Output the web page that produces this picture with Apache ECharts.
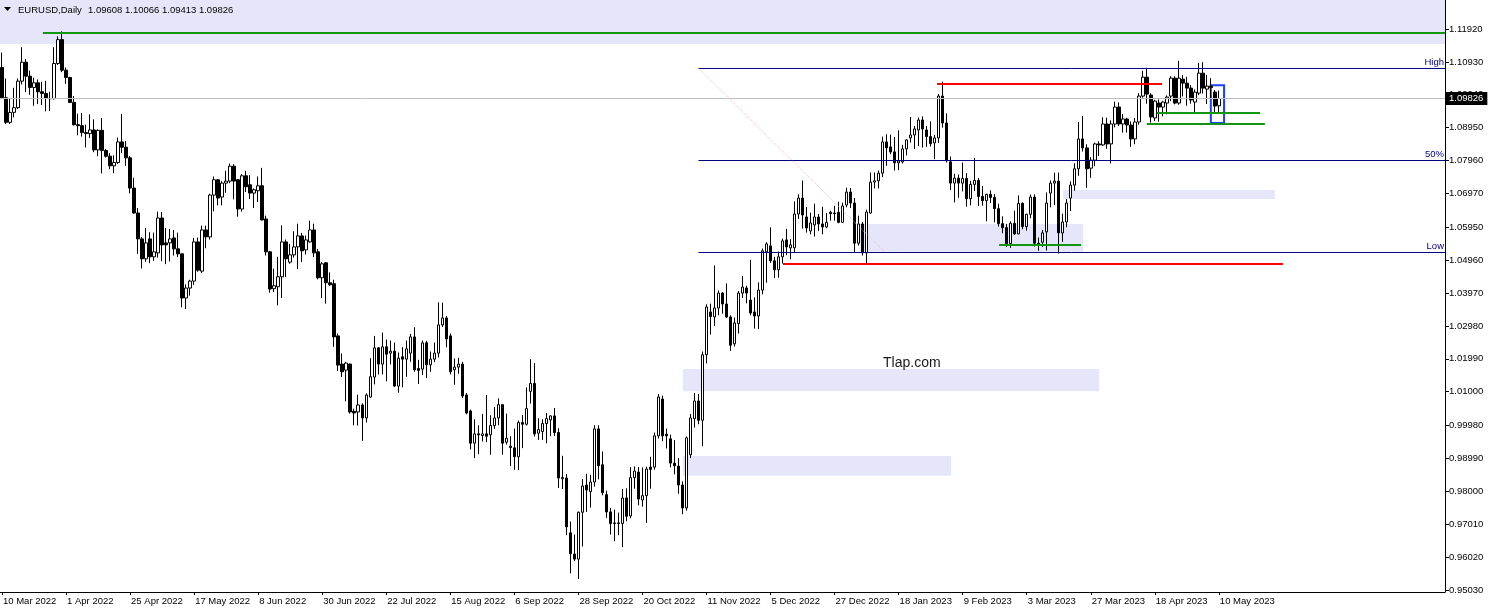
<!DOCTYPE html>
<html><head><meta charset="utf-8">
<script src="https://cdn.jsdelivr.net/npm/echarts@6/dist/echarts.min.js"></script>
<style>html,body{margin:0;padding:0;background:#fff}#c{width:1489px;height:613px}</style>
</head><body><div id="c"></div><script>
// ---------- data ----------
const symbolName = 'EURUSD,Daily';
const lastQuote = ['1.09608', '1.10066', '1.09413', '1.09826'];
const barCount = 305;          // 10 Mar 2022 .. 10 May 2023 (daily, Mon-Fri)
const slotCount = 361;         // visible slots incl. empty space on the right
const tickEvery = 16;
const tickLabels = ['10 Mar 2022','1 Apr 2022','25 Apr 2022','17 May 2022','8 Jun 2022','30 Jun 2022','22 Jul 2022',
  '15 Aug 2022','6 Sep 2022','28 Sep 2022','20 Oct 2022','11 Nov 2022','5 Dec 2022','27 Dec 2022','18 Jan 2023',
  '9 Feb 2023','3 Mar 2023','27 Mar 2023','18 Apr 2023','10 May 2023'];
const yTicks = [0.95030,0.96020,0.97010,0.98000,0.98990,0.99980,1.01000,1.01990,1.02980,1.03970,1.04960,
  1.05950,1.06970,1.07960,1.08950,1.09940,1.10930,1.11920];
const yMin = 0.94969, yMax = 1.12793;
// [open, high, low, close]
const ohlc = [
// Mar 2022
[1.1076,1.1121,1.0983,1.0985],[1.0985,1.1043,1.0906,1.0911],[1.0911,1.0983,1.0906,1.0941],[1.0941,1.1015,1.0926,1.0955],
[1.0955,1.1043,1.0951,1.1035],[1.1035,1.1137,1.1025,1.1092],[1.1092,1.1101,1.1002,1.1050],[1.1050,1.1067,1.0994,1.1016],
[1.1016,1.1045,1.0961,1.1030],[1.1030,1.1040,1.0966,1.1003],[1.1003,1.1033,1.0963,1.0998],[1.0998,1.1036,1.0944,1.0983],
[1.0983,1.1003,1.0945,1.0982],[1.0982,1.1137,1.0980,1.1088],[1.1088,1.1170,1.1084,1.1160],[1.1160,1.1185,1.1062,1.1068],
// Apr 2022
[1.1068,1.1076,1.1027,1.1046],[1.1046,1.1048,1.0969,1.0971],[1.0971,1.0990,1.0901,1.0904],[1.0904,1.0937,1.0872,1.0901],
[1.0901,1.0939,1.0868,1.0880],[1.0880,1.0904,1.0835,1.0877],[1.0877,1.0935,1.0864,1.0888],[1.0888,1.0920,1.0821,1.0828],
[1.0828,1.0890,1.0809,1.0887],[1.0887,1.0924,1.0757,1.0826],[1.0826,1.0831,1.0805,1.0809],[1.0809,1.0818,1.0770,1.0780],
[1.0780,1.0812,1.0758,1.0790],[1.0790,1.0865,1.0786,1.0852],[1.0852,1.0936,1.0819,1.0836],[1.0836,1.0855,1.0780,1.0804],
[1.0804,1.0810,1.0697,1.0713],[1.0713,1.0744,1.0636,1.0638],[1.0638,1.0653,1.0515,1.0560],[1.0560,1.0566,1.0471,1.0500],
[1.0500,1.0593,1.0491,1.0548],
// May 2022
[1.0560,1.0580,1.0487,1.0506],[1.0506,1.0579,1.0494,1.0521],[1.0518,1.0642,1.0504,1.0623],[1.0623,1.0641,1.0493,1.0542],
[1.0548,1.0593,1.0484,1.0542],[1.0548,1.0590,1.0492,1.0560],[1.0563,1.0587,1.0510,1.0530],[1.0530,1.0579,1.0505,1.0515],
[1.0515,1.0516,1.0354,1.0382],[1.0382,1.0423,1.0349,1.0412],[1.0412,1.0437,1.0389,1.0433],[1.0433,1.0563,1.0422,1.0551],
[1.0551,1.0564,1.0461,1.0466],[1.0463,1.0600,1.0457,1.0587],[1.0587,1.0600,1.0532,1.0566],[1.0566,1.0696,1.0558,1.0692],
[1.0692,1.0748,1.0643,1.0738],[1.0738,1.0740,1.0661,1.0683],[1.0686,1.0734,1.0661,1.0728],[1.0728,1.0765,1.0699,1.0734],
[1.0734,1.0787,1.0728,1.0779],[1.0779,1.0785,1.0679,1.0734],
// Jun 2022
[1.0738,1.0740,1.0627,1.0650],[1.0650,1.0755,1.0642,1.0750],[1.0750,1.0765,1.0701,1.0717],[1.0723,1.0752,1.0680,1.0698],
[1.0698,1.0712,1.0653,1.0708],[1.0705,1.0748,1.0671,1.0720],[1.0720,1.0774,1.0616,1.0617],[1.0620,1.0630,1.0510,1.0521],
[1.0521,1.0524,1.0398,1.0409],[1.0410,1.0470,1.0400,1.0419],[1.0416,1.0506,1.0360,1.0446],[1.0446,1.0601,1.0382,1.0551],
[1.0551,1.0558,1.0445,1.0500],[1.0490,1.0545,1.0485,1.0512],[1.0512,1.0583,1.0504,1.0536],[1.0536,1.0606,1.0469,1.0569],
[1.0569,1.0578,1.0490,1.0524],[1.0527,1.0570,1.0513,1.0557],[1.0551,1.0615,1.0549,1.0587],[1.0587,1.0606,1.0505,1.0518],
[1.0521,1.0530,1.0438,1.0443],[1.0443,1.0490,1.0382,1.0485],
// Jul 2022
[1.0488,1.0490,1.0365,1.0428],[1.0428,1.0459,1.0418,1.0422],[1.0425,1.0437,1.0235,1.0265],[1.0268,1.0275,1.0162,1.0180],
[1.0183,1.0215,1.0144,1.0160],[1.0165,1.0190,1.0071,1.0186],[1.0183,1.0185,1.0034,1.0039],[1.0041,1.0049,0.9999,1.0036],
[1.0039,1.0091,0.9998,1.0060],[1.0060,1.0065,0.9952,1.0021],[1.0021,1.0095,1.0007,1.0090],[1.0084,1.0201,1.0082,1.0145],
[1.0144,1.0268,1.0122,1.0232],[1.0232,1.0234,1.0152,1.0183],[1.0183,1.0278,1.0152,1.0235],[1.0235,1.0257,1.0131,1.0213],
[1.0216,1.0254,1.0182,1.0222],[1.0222,1.0248,1.0114,1.0117],[1.0117,1.0218,1.0097,1.0201],[1.0205,1.0234,1.0113,1.0198],
[1.0198,1.0254,1.0145,1.0229],
// Aug 2022
[1.0216,1.0274,1.0190,1.0265],[1.0265,1.0294,1.0160,1.0166],[1.0170,1.0196,1.0123,1.0164],[1.0168,1.0254,1.0150,1.0247],
[1.0247,1.0253,1.0141,1.0181],[1.0181,1.0221,1.0160,1.0198],[1.0198,1.0248,1.0189,1.0216],[1.0216,1.0369,1.0203,1.0301],
[1.0301,1.0368,1.0295,1.0322],[1.0322,1.0328,1.0234,1.0259],[1.0268,1.0275,1.0152,1.0160],[1.0166,1.0200,1.0121,1.0174],
[1.0174,1.0202,1.0154,1.0183],[1.0183,1.0190,1.0081,1.0087],[1.0090,1.0096,1.0032,1.0036],[1.0042,1.0046,0.9926,0.9945],
[0.9945,1.0017,0.9900,0.9973],[0.9973,0.9999,0.9912,0.9970],[0.9968,1.0033,0.9950,0.9973],[0.9973,1.0090,0.9948,0.9966],
[0.9970,1.0029,0.9910,0.9998],[0.9998,1.0054,0.9988,1.0021],[1.0021,1.0080,0.9999,1.0061],
// Sep 2022
[1.0061,1.0062,0.9910,0.9945],[0.9948,1.0034,0.9941,0.9960],[0.9936,0.9966,0.9876,0.9932],[0.9931,0.9989,0.9865,0.9904],
[0.9904,1.0013,0.9864,1.0007],[1.0007,1.0030,0.9930,1.0002],[1.0002,1.0113,0.9998,1.0049],[1.0101,1.0198,1.0064,1.0125],
[1.0125,1.0186,0.9965,0.9973],[0.9975,1.0020,0.9955,0.9986],[0.9980,1.0017,0.9955,1.0004],[1.0004,1.0036,0.9945,1.0019],
[1.0015,1.0029,0.9966,1.0027],[1.0027,1.0051,0.9967,0.9977],[0.9977,0.9990,0.9810,0.9840],[0.9838,0.9907,0.9807,0.9842],
[0.9840,0.9852,0.9668,0.9693],[0.9675,0.9709,0.9553,0.9612],[0.9611,0.9670,0.9590,0.9596],[0.9596,0.9739,0.9536,0.9737],
[0.9737,0.9837,0.9634,0.9816],[0.9819,0.9853,0.9738,0.9804],
// Oct 2022
[0.9799,0.9850,0.9751,0.9828],[0.9828,0.9999,0.9814,0.9988],[0.9988,0.9999,0.9836,0.9877],[0.9880,0.9920,0.9788,0.9796],
[0.9790,0.9802,0.9720,0.9738],[0.9738,0.9750,0.9670,0.9703],[0.9703,0.9745,0.9650,0.9705],[0.9705,0.9736,0.9668,0.9703],
[0.9703,0.9807,0.9632,0.9780],[0.9780,0.9809,0.9710,0.9725],[0.9726,0.9873,0.9719,0.9841],[0.9841,0.9875,0.9808,0.9861],
[0.9858,0.9873,0.9758,0.9777],[0.9774,0.9872,0.9754,0.9787],[0.9787,0.9874,0.9705,0.9867],[0.9873,0.9904,0.9808,0.9866],
[0.9873,0.9977,0.9865,0.9967],[0.9967,1.0093,0.9959,1.0084],[1.0078,1.0088,0.9951,0.9967],[0.9972,0.9989,0.9929,0.9967],
[0.9958,0.9971,0.9872,0.9885],
// Nov 2022
[0.9885,0.9954,0.9851,0.9877],[0.9876,0.9900,0.9793,0.9819],[0.9819,0.9830,0.9731,0.9750],[0.9750,0.9965,0.9742,0.9961],
[0.9910,1.0033,0.9900,1.0021],[1.0019,1.0096,0.9992,1.0072],[1.0072,1.0093,1.0002,1.0014],[1.0014,1.0221,0.9936,1.0211],
[1.0211,1.0363,1.0185,1.0355],[1.0340,1.0365,1.0272,1.0326],[1.0325,1.0480,1.0298,1.0352],[1.0352,1.0405,1.0330,1.0397],
[1.0397,1.0400,1.0335,1.0364],[1.0364,1.0426,1.0322,1.0325],[1.0325,1.0330,1.0223,1.0240],[1.0244,1.0323,1.0236,1.0307],
[1.0305,1.0403,1.0275,1.0397],[1.0397,1.0448,1.0382,1.0415],[1.0412,1.0419,1.0366,1.0397],[1.0376,1.0497,1.0330,1.0337],
[1.0340,1.0384,1.0290,1.0328],[1.0328,1.0429,1.0289,1.0406],
// Dec 2022
[1.0406,1.0531,1.0393,1.0524],[1.0521,1.0550,1.0428,1.0545],[1.0539,1.0595,1.0488,1.0494],[1.0494,1.0506,1.0442,1.0467],
[1.0467,1.0522,1.0443,1.0506],[1.0506,1.0561,1.0486,1.0554],[1.0557,1.0590,1.0511,1.0536],[1.0533,1.0559,1.0499,1.0542],
[1.0533,1.0673,1.0520,1.0635],[1.0635,1.0694,1.0620,1.0683],[1.0683,1.0736,1.0591,1.0632],[1.0626,1.0656,1.0579,1.0593],
[1.0584,1.0639,1.0574,1.0608],[1.0602,1.0666,1.0567,1.0626],[1.0626,1.0635,1.0584,1.0605],[1.0605,1.0657,1.0574,1.0596],
[1.0596,1.0638,1.0592,1.0610],[1.0640,1.0645,1.0615,1.0636],[1.0638,1.0660,1.0615,1.0636],[1.0640,1.0672,1.0607,1.0610],
[1.0610,1.0669,1.0609,1.0659],[1.0662,1.0714,1.0655,1.0701],
// Jan 2023
[1.0701,1.0713,1.0653,1.0668],[1.0668,1.0683,1.0519,1.0547],[1.0547,1.0630,1.0540,1.0605],[1.0605,1.0611,1.0510,1.0518],
[1.0518,1.0648,1.0483,1.0641],[1.0638,1.0760,1.0636,1.0731],[1.0731,1.0760,1.0712,1.0735],[1.0735,1.0766,1.0712,1.0758],
[1.0758,1.0868,1.0746,1.0852],[1.0852,1.0875,1.0780,1.0834],[1.0837,1.0874,1.0815,1.0822],[1.0822,1.0867,1.0766,1.0789],
[1.0789,1.0887,1.0767,1.0795],[1.0792,1.0843,1.0787,1.0831],[1.0831,1.0860,1.0811,1.0858],[1.0864,1.0927,1.0850,1.0873],
[1.0873,1.0900,1.0831,1.0891],[1.0888,1.0925,1.0839,1.0918],[1.0918,1.0929,1.0835,1.0891],[1.0888,1.0900,1.0837,1.0868],
[1.0868,1.0914,1.0838,1.0847],[1.0849,1.0873,1.0800,1.0864],
// Feb 2023
[1.0864,1.0996,1.0849,1.0990],[1.0990,1.1033,1.0895,1.0909],[1.0909,1.0938,1.0790,1.0795],[1.0792,1.0808,1.0707,1.0728],
[1.0728,1.0756,1.0670,1.0743],[1.0743,1.0754,1.0684,1.0728],[1.0728,1.0790,1.0703,1.0742],[1.0742,1.0758,1.0657,1.0681],
[1.0681,1.0735,1.0661,1.0724],[1.0724,1.0804,1.0704,1.0736],[1.0736,1.0743,1.0659,1.0688],[1.0688,1.0719,1.0660,1.0675],
[1.0675,1.0696,1.0613,1.0694],[1.0694,1.0706,1.0668,1.0685],[1.0685,1.0695,1.0610,1.0651],[1.0651,1.0666,1.0597,1.0606],
[1.0606,1.0628,1.0577,1.0594],[1.0594,1.0605,1.0536,1.0546],[1.0546,1.0613,1.0533,1.0607],[1.0607,1.0645,1.0572,1.0575],
// Mar 2023
[1.0575,1.0691,1.0574,1.0667],[1.0667,1.0670,1.0589,1.0597],[1.0597,1.0636,1.0585,1.0634],[1.0634,1.0694,1.0622,1.0686],
[1.0686,1.0694,1.0537,1.0547],[1.0547,1.0564,1.0524,1.0545],[1.0550,1.0587,1.0536,1.0578],[1.0581,1.0700,1.0525,1.0668],
[1.0698,1.0736,1.0655,1.0728],[1.0728,1.0759,1.0662,1.0734],[1.0734,1.0760,1.0516,1.0578],[1.0578,1.0636,1.0551,1.0611],
[1.0611,1.0680,1.0595,1.0668],[1.0683,1.0733,1.0644,1.0722],[1.0722,1.0788,1.0705,1.0771],[1.0771,1.0912,1.0750,1.0861],
[1.0861,1.0930,1.0823,1.0834],[1.0834,1.0845,1.0714,1.0771],[1.0773,1.0806,1.0744,1.0797],[1.0797,1.0850,1.0779,1.0846],
[1.0846,1.0854,1.0810,1.0843],[1.0843,1.0926,1.0840,1.0906],[1.0906,1.0925,1.0831,1.0846],
// Apr 2023
[1.0846,1.0917,1.0787,1.0906],[1.0906,1.0973,1.0896,1.0957],[1.0957,1.0971,1.0900,1.0906],[1.0906,1.0936,1.0880,1.0921],
[1.0921,1.0925,1.0880,1.0903],[1.0903,1.0914,1.0837,1.0861],[1.0861,1.0924,1.0845,1.0912],[1.0912,1.0999,1.0904,1.0990],
[1.0990,1.1066,1.0985,1.1047],[1.1047,1.1075,1.0967,1.0996],[1.0993,1.0999,1.0910,1.0927],[1.0924,1.0979,1.0915,1.0975],
[1.0969,1.0980,1.0913,1.0957],[1.0957,1.0975,1.0929,1.0972],[1.0969,1.0992,1.0935,1.0987],[1.0990,1.1050,1.0975,1.1044],
[1.1044,1.1050,1.0965,1.0969],[1.0969,1.1096,1.0964,1.1044],[1.1041,1.1053,1.0989,1.1029],[1.1029,1.1048,1.0961,1.1014],
// May 2023
[1.1014,1.1023,1.0967,1.0978],[1.0972,1.1010,1.0942,1.1002],[1.0999,1.1090,1.0993,1.1059],[1.1059,1.1092,1.0998,1.1014],
[1.1011,1.1054,1.0966,1.1020],[1.1020,1.1044,1.0982,1.1016],[1.1002,1.1008,1.0940,1.0960],[1.09608,1.10066,1.09413,1.09826]
];
// annotation objects (bar-index from, bar-index to, price levels)
const zones = [[-0.5,360.5,1.1147,1.12793],[214.3,270.1,1.0605,1.0521],[265.1,318.0,1.0707,1.0680],
               [170.1,274.1,1.0168,1.0101],[170.1,237.1,0.9906,0.9847]];
const redLines = [[195.1,320.0,1.0484],[233.6,289.8,1.1028]];
const greenLines = [[10.2,360.5,1.1180],[288.5,314.3,1.0941],[286.0,315.5,1.0908],[249.1,269.6,1.0541]];
const fibLevels = [['High',1.1074],['50%',1.0797],['Low',1.0520]];
const fibFrom = 174, fibAnchorTo = 220.6;
const boxFrame = [302.0,305.3,1.1023,1.0909];
const currentPrice = 1.09826;
const watermark = ['Tlap.com',227.3,1.0187];

// ---------- build ----------
const MONTHS = ['Jan','Feb','Mar','Apr','May','Jun','Jul','Aug','Sep','Oct','Nov','Dec'];
const categories = [];
let d = new Date(Date.UTC(2022,2,10));
while (categories.length < slotCount) {
  const wd = d.getUTCDay();
  if (wd !== 0 && wd !== 6) categories.push(d.getUTCDate()+' '+MONTHS[d.getUTCMonth()]+' '+d.getUTCFullYear());
  d = new Date(d.getTime()+86400000);
}
const showTick = i => i % tickEvery === 0 && i < barCount;
const FONT = 'Liberation Sans';
const seg = (x1,x2,y1,y2,style,label) => [
  {coord:[x1,y1], lineStyle:style, label: label || {show:false}},
  {coord:[x2,y2], lineStyle:style, label: label || {show:false}}
];
const lineMarks = [];
redLines.forEach(r => lineMarks.push(seg(r[0],r[1],r[2],r[2],{color:'#ff0000',width:2,type:'solid'})));
greenLines.forEach(r => lineMarks.push(seg(r[0],r[1],r[2],r[2],{color:'#129612',width:2,type:'solid'})));
fibLevels.forEach(f => lineMarks.push(seg(fibFrom,360.5,f[1],f[1],{color:'#000080',width:1,type:'solid'},
  {show:true,position:'insideEndTop',formatter:f[0],color:'#000080',fontSize:9.5,fontFamily:FONT,distance:1})));
lineMarks.push(seg(fibFrom,fibAnchorTo,fibLevels[0][1],fibLevels[2][1],{color:'#f2b8c6',width:1,type:'dotted'}));

const chart = echarts.init(document.getElementById('c'), null, {renderer:'canvas'});
chart.setOption({
  animation:false,
  backgroundColor:'#ffffff',
  grid:{left:0,right:44,top:0,bottom:21,containLabel:false},
  xAxis:[{
    type:'category', data:categories, boundaryGap:true,
    axisLine:{show:true,onZero:false,lineStyle:{color:'#000',width:1}},
    axisTick:{show:true,interval:(i)=>showTick(i),alignWithLabel:true,length:3,lineStyle:{color:'#000'}},
    axisLabel:{interval:(i)=>showTick(i),formatter:(v,i)=>tickLabels[i/tickEvery]||'',align:'left',margin:4,
      fontSize:9.5,fontFamily:FONT,color:'#000',padding:[0,0,0,1]},
    splitLine:{show:false}
  },{
    type:'value', min:-0.5, max:slotCount-0.5, show:false
  }],
  yAxis:[{
    type:'value', position:'right', min:yMin, max:yMax, scale:true,
    splitLine:{show:false},
    axisLine:{show:true,onZero:false,lineStyle:{color:'#000',width:1}},
    axisTick:{show:true,customValues:yTicks,length:4,lineStyle:{color:'#000'}},
    axisLabel:{customValues:yTicks,formatter:v=>v.toFixed(5),margin:4,fontSize:9.5,fontFamily:FONT,color:'#000'}
  }],
  graphic:[
    {type:'polygon',left:4,top:7,shape:{points:[[0,0],[7,0],[3.5,4]]},style:{fill:'#000'},z:100},
    {type:'text',left:18,top:5,style:{text:symbolName,fontSize:9.5,fontFamily:FONT,fill:'#000'},z:100},
    {type:'text',left:88,top:5,style:{text:lastQuote.join(' '),fontSize:9.5,fontFamily:FONT,fill:'#000'},z:100}
  ],
  series:[
    {
      type:'line', name:'zones', xAxisIndex:1, yAxisIndex:0, data:[], silent:true, z:1,
      markArea:{silent:true,itemStyle:{color:'#e6e6fa'},
        data:zones.map(zn=>[{coord:[zn[0],zn[2]]},{coord:[zn[1],zn[3]]}])},
      markLine:{silent:true,symbol:['none','none'],precision:5,
        lineStyle:{color:'#c0c0c0',width:1,type:'solid'},
        data:[{yAxis:currentPrice,label:{show:true,position:'end',formatter:lastQuote[3],backgroundColor:'#000',
          color:'#fff',padding:[2,4,1,3],fontSize:9.5,fontFamily:FONT,distance:1}}]}
    },
    {
      type:'candlestick', name:'EURUSD', xAxisIndex:0, yAxisIndex:0, barWidth:3, z:3,
      data: ohlc.map(r=>[r[0],r[3],r[2],r[1]]),
      itemStyle:{color:'#ffffff',color0:'#000000',borderColor:'#000000',borderColor0:'#000000',borderWidth:1}
    },
    {
      type:'line', name:'levels', xAxisIndex:1, yAxisIndex:0, data:[], silent:true, z:4,
      markLine:{silent:true,symbol:['none','none'],precision:5,data:lineMarks},
      markArea:{silent:true,itemStyle:{color:'rgba(0,0,0,0)',borderColor:'#1f3fff',borderWidth:2},
        data:[[{coord:[boxFrame[0],boxFrame[2]]},{coord:[boxFrame[1],boxFrame[3]]}]]},
      markPoint:{silent:true,symbol:'rect',symbolSize:1,itemStyle:{color:'rgba(0,0,0,0)'},
        data:[{coord:[watermark[1],watermark[2]],label:{show:true,position:'inside',formatter:watermark[0],
          fontSize:14,fontFamily:FONT,color:'#1a1a1a'}}]}
    }
  ]
});
</script></body></html>
